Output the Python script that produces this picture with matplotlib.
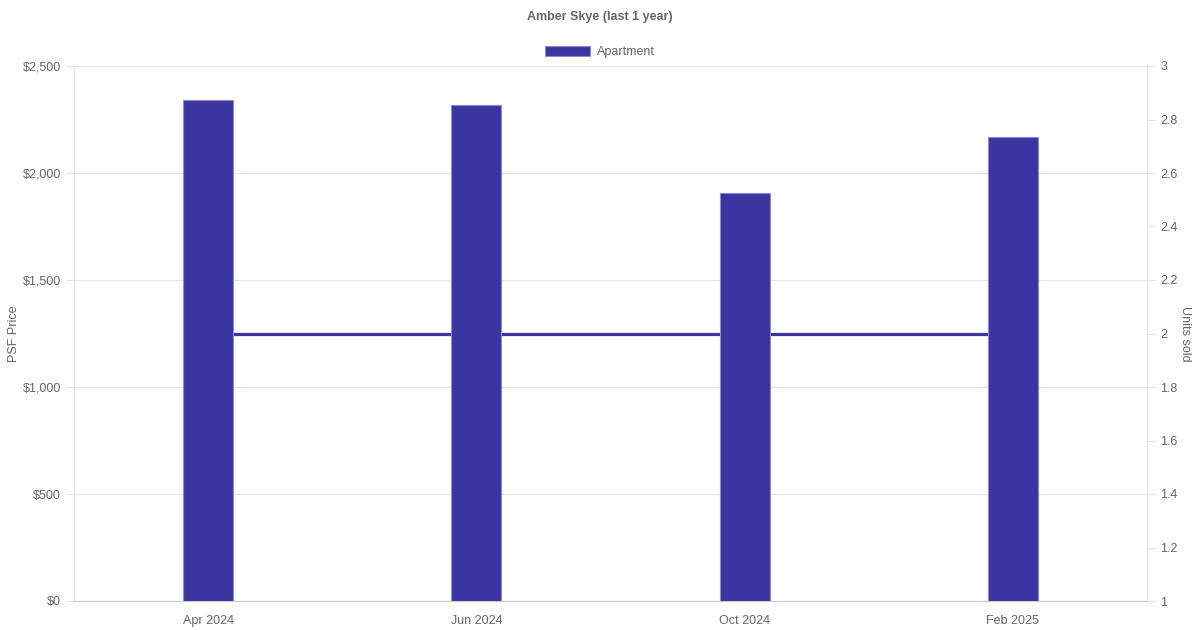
import matplotlib
matplotlib.use('Agg')
import matplotlib.pyplot as plt
from matplotlib.patches import Patch
from matplotlib.ticker import FuncFormatter, MultipleLocator

plt.rcParams['font.family'] = ['Liberation Sans', 'DejaVu Sans']

months = ['Apr 2024', 'Jun 2024', 'Oct 2024', 'Feb 2025']
psf_price = [2340, 2320, 1905, 2170]
units_sold = [2, 2, 2, 2]

bar_color = '#3a35a0'
text_color = '#666666'
grid_color = '#e5e5e5'

fig = plt.figure(figsize=(12, 6.3), dpi=100)
ax = fig.add_axes([74 / 1200, 29 / 630, 1073 / 1200, 535 / 630])
ax2 = ax.twinx()

# bars on the left axis, drawn above the line from the right axis
ax.set_zorder(2)
ax.patch.set_visible(False)

x = range(len(months))
ax.bar(x, psf_price, width=0.187, color=bar_color, edgecolor='#8e8bd0',
       linewidth=0.8, zorder=3)
ax2.plot(x, units_sold, color=bar_color, linewidth=2.3)

ax.set_xlim(-0.5, len(months) - 0.5)
ax.set_ylim(0, 2500)
ax.yaxis.set_major_locator(MultipleLocator(500))
ax.yaxis.set_major_formatter(FuncFormatter(lambda v, p: f'${v:,.0f}'))
ax.set_xticks(list(x))
ax.set_xticklabels(months)
ax.grid(axis='y', color=grid_color, linewidth=0.8)
ax.set_axisbelow(True)

ax2.set_ylim(1, 3)
ax2.yaxis.set_major_locator(MultipleLocator(0.2))
ax2.yaxis.set_major_formatter(FuncFormatter(lambda v, p: f'{v:g}'))

for a in (ax, ax2):
    for s in a.spines.values():
        s.set_visible(False)
    a.tick_params(colors=text_color, labelsize=9, length=6, width=0.8)
    a.tick_params(axis='y', color=grid_color)
ax.tick_params(axis='x', length=0, pad=10)
ax.spines['left'].set_visible(True)
ax.spines['left'].set_color(grid_color)
ax.spines['bottom'].set_visible(True)
ax.spines['bottom'].set_color('#cccccc')
ax2.spines['right'].set_visible(True)
ax2.spines['right'].set_color(grid_color)

ax.set_ylabel('PSF Price', color=text_color, fontsize=9, labelpad=2)
ax2.set_ylabel('Units sold', color=text_color, fontsize=9, rotation=270,
               labelpad=10)

fig.text(0.5, 1 - 17 / 630, 'Amber Skye (last 1 year)', ha='center',
         va='center', fontsize=9, fontweight='bold', color=text_color)
handle = Patch(facecolor=bar_color, edgecolor='#8e8bd0', linewidth=0.8)
fig.legend([handle], ['Apartment'], loc='center',
           bbox_to_anchor=(0.5, 1 - 52 / 630), frameon=False, fontsize=9,
           labelcolor=text_color, handlelength=3.6, handleheight=0.9,
           handletextpad=0.5)

fig.savefig('out.png', dpi=100)
